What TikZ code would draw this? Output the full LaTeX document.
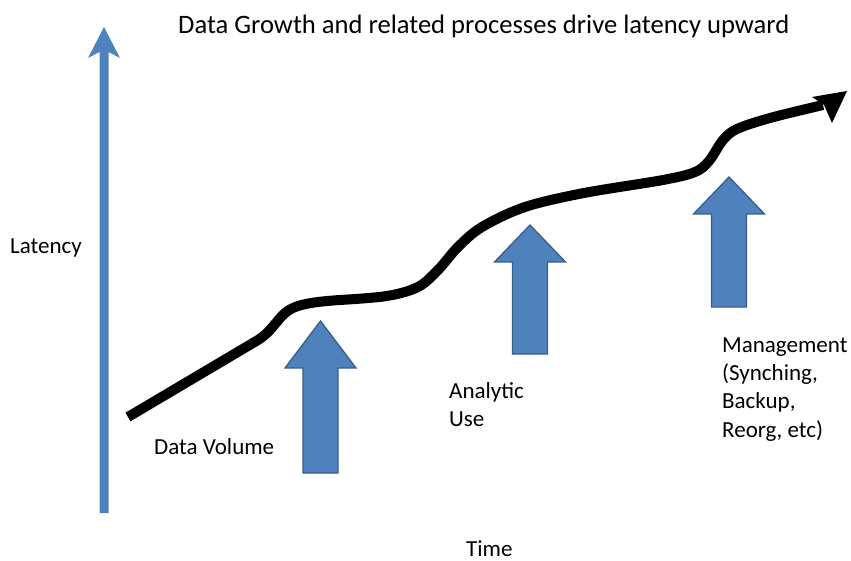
\documentclass[tikz,border=0pt]{standalone}
\usepackage{fontspec}
\setmainfont{Carlito}
\definecolor{blk}{HTML}{4F81BD}
\definecolor{blkline}{HTML}{385D8A}
\newcommand\blockup[4]{% cx, tip y, head base y, bottom y
  \draw[blockarrow] (#1-17.5,#4) -- (#1-17.5,#3) -- (#1-35.5,#3) -- (#1,#2)
    -- (#1+35.5,#3) -- (#1+17.5,#3) -- (#1+17.5,#4) -- cycle;}
\begin{document}
\begin{tikzpicture}[x=1pt,y=-1pt,
  lbl/.style={inner sep=0pt,anchor=base west,font=\fontsize{23}{28}\selectfont},
  blockarrow/.style={fill=blk,draw=blkline,line width=1.3pt,line join=miter}]
\useasboundingbox (0,0) rectangle (851,561);
% vertical axis arrow
\fill[blk] (99.5,513) -- (99.5,52) -- (88,58) -- (104,27) -- (120,58)
  -- (108.5,52) -- (108.5,513) -- cycle;
% block arrows
\blockup{320.5}{321}{368}{473}
\blockup{530}{225}{262}{354}
\blockup{729}{177}{214}{307}
% black growth curve
\draw[line width=10pt,line cap=butt,line join=round]
  (128,417) -- (258,340) .. controls (271,332) and (276,321) .. (285,313)
  .. controls (294,305) and (310,302) .. (340,300)
  -- plot[smooth,tension=0.55] coordinates {(340,300) (387,296) (418,287)
  (438,270) (458,247) (482,227) (525,207)
  (584,193) (663,180) (695,172) (709,161) (723,140) (737,129) (770,118) (823,105)};
\fill (847,91) -- (812,97) -- (824,105) -- (832,123) -- cycle;
% texts
\node[lbl,font=\fontsize{26.6}{32}\selectfont] (title) at (178,34)
  {Data Growth and related processes drive latency upward};
\node[lbl] (lat) at (10,254) {Latency};
\node[lbl] (dv) at (154,454) {Data Volume};
\node[lbl] (an1) at (449,398) {Analytic};
\node[lbl] (an2) at (449,426) {Use};
\node[lbl] (m1) at (722,352) {Management};
\node[lbl] (m2) at (722,380) {(Synching,};
\node[lbl] (m3) at (722,408) {Backup,};
\node[lbl] (m4) at (722,437) {Reorg, etc)};
\node[lbl] (time) at (466,556) {Time};
\end{tikzpicture}
\end{document}
